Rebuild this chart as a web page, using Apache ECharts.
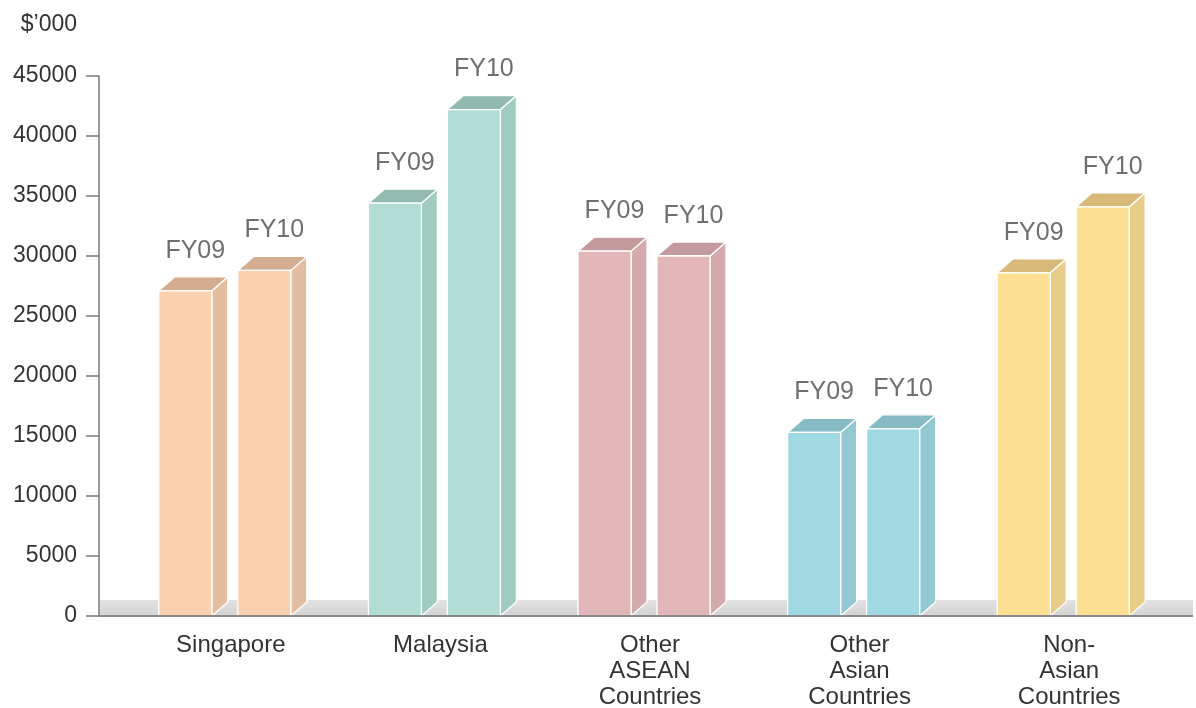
<!DOCTYPE html>
<html>
<head>
<meta charset="utf-8">
<script src="https://cdn.jsdelivr.net/npm/echarts@6/dist/echarts.min.js"></script>
<style>
html,body{margin:0;padding:0;background:#fff;}
#chart{width:1196px;height:708px;}
</style>
</head>
<body>
<div id="chart"></div>
<script>
// ---- data ----
const categories = ['Singapore', 'Malaysia', 'Other\nASEAN\nCountries', 'Other\nAsian\nCountries', 'Non-\nAsian\nCountries'];
const fy09 = [27100, 34400, 30400, 15300, 28600];
const fy10 = [28800, 42200, 30000, 15600, 34100];
const seriesNames = ['FY09', 'FY10'];
const yTicks = { min: 0, max: 45000, interval: 5000 };

// ---- styles ----
const frontColors = ['#FAD0AE', '#B2DDD4', '#E2B6B8', '#A1D9E3', '#FCDF93'];
const topColors   = ['#D4AC90', '#92BAB0', '#C39A9D', '#86BBC4', '#D7BA7A'];
const sideColors  = ['#E3BDA0', '#A0CBC1', '#D4AAAD', '#91C8D1', '#E8CD89'];
const BAR_W = 53, DX = 16, DY = 14, OFFSET = 39.5;
const FONT = '"Liberation Sans", Arial, sans-serif';

function barRenderer(sign, label) {
  return function (params, api) {
    const ci = api.value(0), v = api.value(1);
    const top = api.coord([ci, v]);
    const base = api.coord([ci, 0]);
    const cx = top[0] + sign * OFFSET;
    const x0 = cx - BAR_W / 2, x1 = cx + BAR_W / 2;
    const yT = top[1], yB = base[1];
    const stroke = { stroke: '#ffffff', lineWidth: 1.3 };
    return {
      type: 'group',
      children: [
        { type: 'polygon', shape: { points: [[x1, yB], [x1 + DX, yB - DY], [x1 + DX, yT - DY], [x1, yT]] },
          style: Object.assign({ fill: sideColors[ci] }, stroke) },
        { type: 'polygon', shape: { points: [[x0, yT], [x0 + DX, yT - DY], [x1 + DX, yT - DY], [x1, yT]] },
          style: Object.assign({ fill: topColors[ci] }, stroke) },
        { type: 'rect', shape: { x: x0, y: yT, width: BAR_W, height: yB - yT },
          style: Object.assign({ fill: frontColors[ci] }, stroke) },
        { type: 'text', style: { text: label, x: cx + 10, y: yT - 40, fill: '#6f6f6f',
          font: '25px ' + FONT, align: 'center', verticalAlign: 'middle' } }
      ]
    };
  };
}

function floorRenderer(params, api) {
  const cs = params.coordSys;
  const yB = api.coord([0, 0])[1];
  const left = cs.x - 20, right = cs.x + cs.width + 25;
  return {
    type: 'rect',
    shape: { x: left, y: yB - 16, width: right - left, height: 16 },
    style: { fill: new echarts.graphic.LinearGradient(0, 0, 0, 1, [
      { offset: 0, color: '#e2e2e2' }, { offset: 1, color: '#d3d3d3' }]) }
  };
}

function baselineRenderer(params, api) {
  const cs = params.coordSys;
  const yB = api.coord([0, 0])[1];
  return {
    type: 'line',
    shape: { x1: cs.x - 21, y1: yB, x2: cs.x + cs.width + 25, y2: yB },
    style: { stroke: '#8a8a8a', lineWidth: 2 }
  };
}

const chart = echarts.init(document.getElementById('chart'));
chart.setOption({
  animation: false,
  backgroundColor: '#ffffff',
  grid: { left: 120, right: 28, top: 76, bottom: 92, containLabel: false, outerBoundsMode: 'none' },
  xAxis: {
    type: 'category',
    data: categories,
    axisLine: { show: false },
    axisTick: { show: false },
    axisLabel: { color: '#333', fontSize: 24, lineHeight: 26, margin: 16,
      padding: [0, 0, 0, 12], fontFamily: FONT, interval: 0 }
  },
  yAxis: {
    type: 'value',
    min: yTicks.min, max: yTicks.max, interval: yTicks.interval,
    offset: 21,
    name: '$\u2019000',
    nameLocation: 'end',
    nameGap: 51,
    nameTextStyle: { color: '#333', fontSize: 23, align: 'right', verticalAlign: 'middle',
      padding: [0, 22, 0, 0], fontFamily: FONT },
    axisLine: { show: true, lineStyle: { color: '#7a7a7a', width: 1.5 } },
    axisTick: { show: true, length: 13, lineStyle: { color: '#7a7a7a', width: 1.5 } },
    axisLabel: { color: '#333', fontSize: 23, margin: 22, fontFamily: FONT,
      formatter: function (v) { return String(v); } },
    splitLine: { show: false }
  },
  series: [
    { type: 'custom', name: 'floor', z: 1, clip: false, silent: true,
      renderItem: floorRenderer, data: [[0, 0]] },
    { type: 'custom', name: seriesNames[0], z: 2, clip: false,
      renderItem: barRenderer(-1, seriesNames[0]),
      data: fy09.map((v, i) => [i, v]) },
    { type: 'custom', name: seriesNames[1], z: 2, clip: false,
      renderItem: barRenderer(1, seriesNames[1]),
      data: fy10.map((v, i) => [i, v]) },
    { type: 'custom', name: 'baseline', z: 3, clip: false, silent: true,
      renderItem: baselineRenderer, data: [[0, 0]] }
  ]
});
</script>
</body>
</html>
